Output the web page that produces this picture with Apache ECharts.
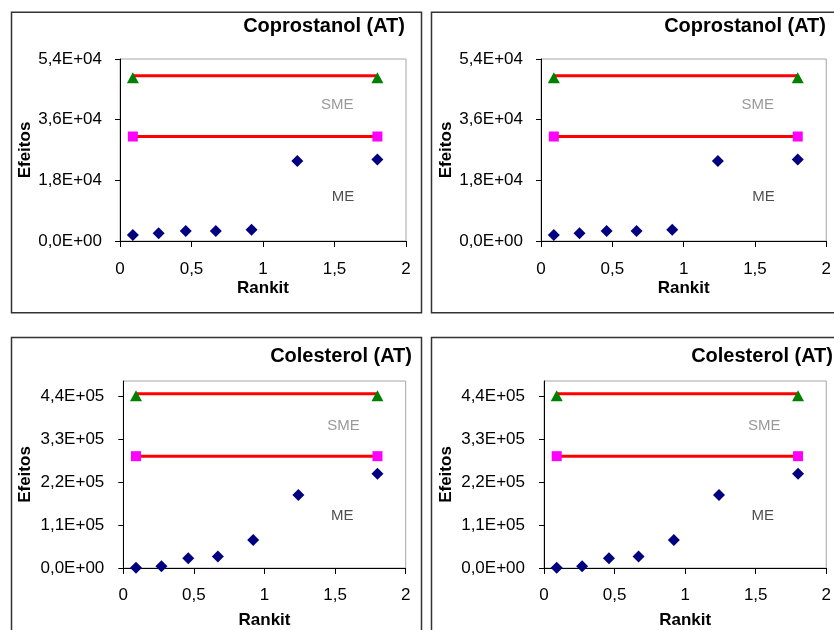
<!DOCTYPE html>
<html>
<head>
<meta charset="utf-8">
<script src="https://cdn.jsdelivr.net/npm/echarts@6/dist/echarts.min.js"></script>
<style>
html,body{margin:0;padding:0;background:#fff;}
#c{width:834px;height:630px;}
</style>
</head>
<body>
<div id="c"></div>
<script>
// ---- data ----
const panelTitles = ['Coprostanol (AT)', 'Coprostanol (AT)', 'Colesterol (AT)', 'Colesterol (AT)'];
const rankit = [0.09, 0.27, 0.46, 0.67, 0.92, 1.24, 1.80];
const effectsCoprostanol = [1770, 2270, 2950, 2950, 3330, 23700, 24200];
const effectsColesterol = [600, 4300, 25300, 29600, 71800, 187100, 242000];
const limitXs = [0.09, 1.80];
const smeCoprostanol = 49000;
const meCoprostanol = 31000;
const smeColesterol = 447000;
const meColesterol = 287000;
const xTicks = [0, 0.5, 1, 1.5, 2];
const yTicksCoprostanol = [0, 18000, 36000, 54000];
const yTicksColesterol = [0, 110000, 220000, 330000, 440000];
const yMaxCoprostanol = 54000;
const yMaxColesterol = 480000;
const annotCoprostanol = [{name: 'SME', value: [1.52, 40500]}, {name: 'ME', value: [1.56, 13100]}];
const annotColesterol = [{name: 'SME', value: [1.56, 366000]}, {name: 'ME', value: [1.55, 135000]}];
const xAxisName = 'Rankit';
const yAxisName = 'Efeitos';

// ---- helpers ----
const FONT = '"Liberation Sans", Arial, sans-serif';
function fmtE(v) {
  if (v === 0) return '0,0E+00';
  const e = Math.floor(Math.log10(Math.abs(v)) + 1e-9);
  const m = v / Math.pow(10, e);
  return m.toFixed(1).replace('.', ',') + 'E+' + String(e).padStart(2, '0');
}
function fmtX(v) { return String(v).replace('.', ','); }

const panels = [
  {title: panelTitles[0], eff: effectsCoprostanol, sme: smeCoprostanol, me: meCoprostanol, yt: yTicksCoprostanol, ymax: yMaxCoprostanol, ann: annotCoprostanol,
   grid: {left: 120, right: 428, top: 59, bottom: 389}, titlePos: {right: 429, top: 16.5}, xGap: 38.5, yGap: 85, lm: 20, ylm: 18,
   box: {x: 11.5, y: 12.3, w: 410, h: 300.5}},
  {title: panelTitles[1], eff: effectsCoprostanol, sme: smeCoprostanol, me: meCoprostanol, yt: yTicksCoprostanol, ymax: yMaxCoprostanol, ann: annotCoprostanol,
   grid: {left: 541, right: 7.5, top: 59, bottom: 389}, titlePos: {right: 8, top: 16.5}, xGap: 38.5, yGap: 85, lm: 20, ylm: 18,
   box: {x: 431.5, y: 12.3, w: 420, h: 300.5}},
  {title: panelTitles[2], eff: effectsColesterol, sme: smeColesterol, me: meColesterol, yt: yTicksColesterol, ymax: yMaxColesterol, ann: annotColesterol,
   grid: {left: 123.3, right: 428.3, top: 381, bottom: 59.3}, titlePos: {right: 422, top: 346.5}, xGap: 44, yGap: 89, lm: 19, ylm: 19,
   box: {x: 11.5, y: 337.5, w: 410, h: 310}},
  {title: panelTitles[3], eff: effectsColesterol, sme: smeColesterol, me: meColesterol, yt: yTicksColesterol, ymax: yMaxColesterol, ann: annotColesterol,
   grid: {left: 544, right: 7.5, top: 381, bottom: 59.3}, titlePos: {right: 1, top: 346.5}, xGap: 44, yGap: 89, lm: 19, ylm: 19,
   box: {x: 431.5, y: 337.5, w: 420, h: 310}}
];

const option = {
  backgroundColor: '#fff',
  animation: false,
  title: [], grid: [], xAxis: [], yAxis: [], series: [], graphic: []
};

panels.forEach((p, i) => {
  option.graphic.push({
    type: 'rect', z: 0, silent: true,
    shape: {x: p.box.x, y: p.box.y, width: p.box.w, height: p.box.h},
    style: {fill: 'none', stroke: '#333', lineWidth: 1.5}
  });
  option.title.push({
    text: p.title, right: p.titlePos.right, top: p.titlePos.top, padding: 0,
    textStyle: {fontFamily: FONT, fontSize: 20, fontWeight: 'bold', color: '#000'}
  });
  option.grid.push(Object.assign({show: true, borderColor: '#a6a6a6', borderWidth: 1, backgroundColor: 'transparent', containLabel: false}, p.grid));
  option.xAxis.push({
    type: 'value', gridIndex: i, min: 0, max: 2,
    name: xAxisName, nameLocation: 'middle', nameGap: p.xGap,
    nameTextStyle: {fontFamily: FONT, fontSize: 17, fontWeight: 'bold', color: '#000'},
    axisLine: {show: true, onZero: false, lineStyle: {color: '#000', width: 1}},
    axisTick: {show: true, length: 6, inside: false, customValues: xTicks, lineStyle: {color: '#000'}},
    axisLabel: {show: true, margin: p.lm, customValues: xTicks, formatter: fmtX, fontFamily: FONT, fontSize: 17, color: '#000'},
    splitLine: {show: false}
  });
  option.yAxis.push({
    type: 'value', gridIndex: i, min: 0, max: p.ymax,
    name: yAxisName, nameLocation: 'middle', nameGap: p.yGap, nameRotate: 90,
    nameTextStyle: {fontFamily: FONT, fontSize: 17, fontWeight: 'bold', color: '#000'},
    axisLine: {show: true, onZero: false, lineStyle: {color: '#000', width: 1}},
    axisTick: {show: true, length: 5, inside: false, customValues: p.yt, lineStyle: {color: '#000'}},
    axisLabel: {show: true, margin: p.ylm, customValues: p.yt, formatter: fmtE, fontFamily: FONT, fontSize: 17, color: '#000'},
    splitLine: {show: false}
  });
  const ax = {xAxisIndex: i, yAxisIndex: i};
  option.series.push(Object.assign({
    type: 'line', symbol: 'none', z: 2,
    lineStyle: {color: '#ff0000', width: 3},
    data: limitXs.map(x => [x, p.sme])
  }, ax));
  option.series.push(Object.assign({
    type: 'line', symbol: 'none', z: 2,
    lineStyle: {color: '#ff0000', width: 3},
    data: limitXs.map(x => [x, p.me])
  }, ax));
  option.series.push(Object.assign({
    type: 'scatter', symbol: 'triangle', symbolSize: [12, 11], symbolOffset: [0, 2], z: 3,
    itemStyle: {color: '#008000', opacity: 1},
    data: limitXs.map(x => [x, p.sme])
  }, ax));
  option.series.push(Object.assign({
    type: 'scatter', symbol: 'rect', symbolSize: 10, z: 3,
    itemStyle: {color: '#ff00ff', opacity: 1},
    data: limitXs.map(x => [x, p.me])
  }, ax));
  option.series.push(Object.assign({
    type: 'scatter', symbol: 'diamond', symbolSize: [12, 12], z: 4,
    itemStyle: {color: '#000080', opacity: 1},
    data: rankit.map((x, k) => [x, p.eff[k]])
  }, ax));
  option.series.push(Object.assign({
    type: 'scatter', symbolSize: 0, z: 5, silent: true,
    label: {
      show: true, position: 'inside', formatter: d => d.name,
      fontFamily: FONT, fontSize: 15,
      color: '#222'
    },
    data: p.ann.map(a => ({name: a.name, value: a.value, label: {color: a.name === 'SME' ? '#808080' : '#222'}}))
  }, ax));
});

const chart = echarts.init(document.getElementById('c'), null, {renderer: 'canvas'});
chart.setOption(option);
</script>
</body>
</html>
